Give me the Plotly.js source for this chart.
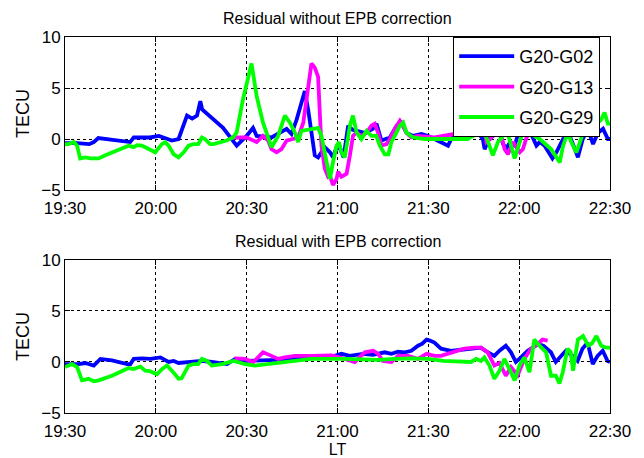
<!DOCTYPE html>
<html>
<head>
<meta charset="utf-8">
<script src="https://cdn.plot.ly/plotly-3.0.1.min.js"></script>
<style>html,body{margin:0;padding:0;background:#fff;}#chart{width:644px;height:458px;}</style>
</head>
<body>
<div id="chart"></div>
<script>
// Time axis: minutes after 19:30 LT
const tickMinutes = [0, 30, 60, 90, 120, 150, 180];
const tickLabels = ["19:30", "20:00", "20:30", "21:00", "21:30", "22:00", "22:30"];
const seriesNames = ["G20-G02", "G20-G13", "G20-G29"];

// ---- Top panel: Residual without EPB correction ----
const topG02Time = [0,4,8,9.5,11,16,21.5,22.7,26,28,31,33,35.3,37.5,40.3,42,43.6,44.7,45.3,52.2,55.5,56.7,60,62.1,63.3,68.2,73.2,74.8,76.5,78.7,79.2,80.3,81.4,82.5,83.6,85.8,87.5,88.5,89.7,91,92,93.5,95,96.8,99,101.7,102.9,104.5,106,107.3,109.5,111.1,112.8,115,117.7,120,122,124.3,126.5,127.6,129.3,129.8,131,133,134.7,136.5,138,138.6,140,141.4,143,144.7,145.8,147,148.5,150.2,151.8,153.5,155.7,156.8,158.4,161,162.3,164.5,166.7,168.8,169.4,171,172.7,174.4,176,177.7,179.3,180];
const topG02Res = [-0.4,-0.4,-0.5,-0.3,0.1,-0.05,-0.3,0.15,0.2,0.15,0.3,0.1,-0.15,0,2.3,2.0,2.3,3.7,2.9,1.1,-0.3,-0.65,0.3,1.1,0.3,0.15,1.0,0.5,1.9,4.2,4.7,2.9,0.3,-1.6,-1.8,-0.8,-1.3,-1.8,-0.8,-1.0,-1.8,1.3,0.9,0.8,0.6,1.0,1.5,-0.15,0,0.15,1.3,1.6,0.6,0.3,0.5,0.3,0,-0.3,-0.65,0,0.8,1.3,0.8,0.6,1.0,0.6,0,-1.0,0,0.3,1.0,-0.5,-0.9,-0.3,-0.65,1.0,1.1,0.8,-0.65,-0.3,-0.65,-1.9,-1.3,0,0.3,-1.3,-1.8,0,1.0,-0.5,0.6,1.0,0,0];

const topG13Time = [55,60,63.3,65.4,67.1,68.2,69.9,71.5,73.2,75.4,77,78.7,80.3,81.4,82.5,83.6,84.2,84.7,85.8,86.9,87.5,88.5,89.7,90.2,91.3,93,94.1,95.1,96.3,97.9,99.6,101.2,102.3,103.4,104.5,106.2,107.3,108.9,110.6,111.7,112.8,114.4,116.6,122,128.7,130.4,133,135,137,138.2,139.2,140.5,142.5,143.8,145.2,146.3,148,150.2,151.2,152.5,154.6,156.2];
const topG13Res = [0.15,0.15,-0.3,0.3,-0.15,-1.0,-1.3,-1.0,-0.15,0,0.15,1.6,5.2,7.4,7.0,6.1,2.3,-0.65,-2.9,-3.7,-3.6,-4.5,-3.9,-3.2,-3.7,-3.4,-1.6,0.3,0.65,0.3,0.6,1.3,1.5,0.6,-0.65,-0.5,0,1.0,1.8,1.3,0.6,0.15,0.3,0.15,0.5,1.3,1.0,1.1,1.1,1.3,-0.3,0,1.0,0.7,-1.0,-1.5,-0.3,-1.3,-1.0,0.2,1.0,1.0];

const topG29Time = [0,1.2,2.9,4,5,6.7,8.4,11.1,13.3,17.7,21,22.7,23.8,25.4,27.6,29.8,32,33.1,34.2,35.9,37.5,39.2,40.8,42.5,44,45.2,46.2,47.9,49,51.2,53.4,55.5,56.7,58.8,61.6,63.3,65.4,68.2,70.4,72.6,74.3,75.9,77,78.1,80.9,83.6,84.7,86.3,87.5,88.5,89.7,90.5,91.3,92.4,94.1,95.1,96.3,97.9,99.6,101.2,102.8,104,105.6,106.8,107.8,108.9,110.6,111.7,112.8,115,118.8,124.3,130,133,134.7,136.5,138.6,140,141.3,143,144.7,145.8,147,148.5,150.2,151.1,152.8,155,156.8,159,160.6,163.4,164.5,166.1,167.2,168.9,170.5,171.6,173.8,174.9,177.1,178.2,179.3,180];
const topG29Res = [-0.5,-0.5,-0.3,-0.65,-1.9,-1.8,-1.9,-1.9,-1.6,-1.1,-0.65,-0.8,-0.6,-0.65,-1.0,-1.3,-0.5,-0.3,-0.65,-1.5,-1.8,-1.3,-0.65,-0.5,-0.5,0.15,0,-0.5,-0.5,-0.3,-0.15,0.15,0.65,3.9,7.4,4.2,1.6,-0.8,0.3,2.3,1.6,0.65,-0.3,0.8,1.0,1.1,0.3,-1.9,-3.9,-2.3,-0.65,-0.3,-1.3,-1.8,1.3,2.3,0.65,0,0.8,0.3,0.3,-0.65,-1.5,-1.5,-0.3,0.3,1.3,1.6,0.6,0.15,0,0,0,0,0.3,0.4,0.6,-0.5,-1.6,-0.3,0.3,1.0,-0.3,-1.9,-0.3,0.6,1.0,0.3,0,-0.65,-1.0,-2.3,-0.65,0.65,-0.3,-1.3,0,1.0,1.6,1.3,1.9,2.6,1.5,1.5];

// ---- Bottom panel: Residual with EPB correction ----
const botG02Time = [0,4.5,6.7,8,9.5,11.7,15.5,20.5,21.6,22.7,25.4,28.2,31.5,34.2,35.9,37.5,40.8,45.2,48.5,53.5,56.2,60,70,80,88,91.3,94,98.4,101.7,105.6,107.8,110,112.2,114.4,116.6,118,119.4,120.5,122,124.2,127.5,130.8,134.1,137.4,139.6,141.8,143.5,145.6,147.3,148.9,150.6,152.8,154.5,156.1,158,160.5,162.1,163.8,165.4,167.6,169.3,170.9,172.6,174.3,175.9,177.6,179.2,180];
const botG02Res = [-0.2,-0.2,-0.1,-0.2,-0.35,0.3,0.15,-0.2,-0.2,0.3,0.35,0.3,0.45,0,0.1,-0.1,0,0.1,0,-0.2,0.3,0.1,0.2,0.4,0.5,0.8,0.6,0.8,0.7,0.95,0.8,1.0,0.95,1.1,1.6,1.8,2.2,2.1,1.9,1.3,1.1,1.2,1.3,1.4,0.95,0.6,1.1,1.6,0.95,0,0.45,1.1,1.4,1.75,1.6,0.95,0,0.6,1.1,0.6,0.1,1.3,1.9,-0.2,0.6,1.1,0.1,0];

const botG13Time = [56,59.4,62.2,65.4,68.2,70.4,72.6,75.9,81.4,88,92.4,95.7,99,101.8,103.4,105,107.8,110,113.3,116.6,119.4,122,124.2,128.6,131.9,135.2,137.4,139.6,141.8,143.5,145.6,147.3,149.5,151.7,153.9,155.5,157.7,159.4];
const botG13Res = [0.35,0.3,0,0.95,0.6,0.3,0.45,0.6,0.6,0.65,0.3,0,0.95,1.1,0.8,0.1,0,0.6,0.6,0.3,0.8,0.6,0.6,0.95,1.3,1.4,1.4,0.95,-0.35,-0.1,-1.35,-0.5,-1.3,0.3,1.3,1.6,2.2,2.1];

const botG29Time = [0,2.3,4,5.6,7.8,9.5,11.1,15.5,21,22.7,24.9,26.5,28,30.4,32,33.7,35.3,37.5,38.5,40.8,42.5,44,45.2,46.9,48.5,51.8,55.7,57.9,59.5,62.7,71.5,81.4,92.4,103.4,108.9,114.4,119.9,125,134.1,135.8,137.4,138.5,140.2,141.8,143.5,145.1,146.8,148.5,150.1,151.7,153.4,155,156.7,158.9,160.5,162.1,163.3,164.4,166,167,167.8,169.4,171.1,172.8,174,175.5,177.1,178.8,180];
const botG29Res = [-0.5,-0.2,-0.5,-1.8,-1.65,-1.9,-1.8,-1.35,-0.6,-0.7,-0.45,-0.85,-0.9,-1.2,-0.7,-0.35,-0.85,-1.65,-1.6,-0.35,-0.2,-0.2,0.3,0.1,-0.35,-0.2,0.1,-0.1,-0.2,-0.35,0,0.3,0.3,0.2,0.3,0.35,0.3,0.1,0,0.3,0.1,0.45,-0.35,-1.65,-0.85,0.3,-0.7,-1.8,-0.35,0.45,-1.0,2.2,1.6,0.95,-1.35,-1.35,-2.1,-1.0,1.3,1.0,-0.85,2.2,2.55,1.6,1.8,2.55,1.6,1.4,1.4];

const colors = ["#0000FF", "#FF00FF", "#00FF00"];
const lw = 3.8;

function tr(x, y, i, xa, ya, show) {
  return {x: x, y: y, type: "scatter", mode: "lines", name: seriesNames[i],
          legendgroup: "g" + i,
          line: {color: colors[i], width: lw, shape: "linear"},
          xaxis: xa, yaxis: ya, showlegend: show, hoverinfo: "skip"};
}

const data = [
  tr(topG02Time, topG02Res, 0, "x", "y", true),
  tr(topG13Time, topG13Res, 1, "x", "y", true),
  tr(topG29Time, topG29Res, 2, "x", "y", true),
  tr(botG02Time, botG02Res, 0, "x2", "y2", false),
  tr(botG13Time, botG13Res, 1, "x2", "y2", false),
  tr(botG29Time, botG29Res, 2, "x2", "y2", false)
];

const font = "Liberation Sans, Arial, Helvetica, sans-serif";
function xax(anchor) {
  return {domain: [0, 1], range: [0, 180], anchor: anchor, tickmode: "array",
          tickvals: tickMinutes, ticktext: tickLabels, ticks: "inside", ticklen: 5,
          tickcolor: "#000", showline: true, linecolor: "#000", linewidth: 1, mirror: "ticks",
          showgrid: true, gridcolor: "#000", gridwidth: 1, griddash: "dot", zeroline: false,
          ticklabelstandoff: 3, automargin: false,
          tickfont: {family: font, size: 17, color: "#000"}, fixedrange: true};
}
function yax(domain, anchor) {
  return {domain: domain, range: [-5, 10], anchor: anchor, tickmode: "array",
          tickvals: [-5, 0, 5, 10], ticks: "inside", ticklen: 5, tickcolor: "#000",
          showline: true, linecolor: "#000", linewidth: 1, mirror: "ticks",
          showgrid: true, gridcolor: "#000", gridwidth: 1, griddash: "dot", zeroline: false,
          automargin: false,
          tickfont: {family: font, size: 17, color: "#000"},
          title: {text: "TECU", font: {family: font, size: 18, color: "#000"}, standoff: 6},
          fixedrange: true};
}

const layout = {
  width: 644, height: 458,
  margin: {l: 65, r: 34, t: 37, b: 45},
  paper_bgcolor: "#fff", plot_bgcolor: "#fff",
  font: {family: font, color: "#000"},
  xaxis: xax("y"),
  yaxis: yax([0.593, 1], "x"),
  xaxis2: Object.assign(xax("y2"), {title: {text: "LT", font: {family: font, size: 16, color: "#000"}, standoff: 6}}),
  yaxis2: yax([0, 0.407], "x2"),
  showlegend: true,
  legend: {x: 0.982, y: 1, xanchor: "right", yanchor: "top", bgcolor: "#fff",
           bordercolor: "#000", borderwidth: 1, font: {family: font, size: 18, color: "#000"},
           tracegroupgap: 4, itemwidth: 55},
  annotations: [
    {text: "Residual without EPB correction", xref: "paper", yref: "paper", x: 0.5, y: 1,
     xanchor: "center", yanchor: "bottom", yshift: 8, showarrow: false,
     font: {family: font, size: 16, color: "#000"}},
    {text: "Residual with EPB correction", xref: "paper", yref: "paper", x: 0.5, y: 0.407,
     xanchor: "center", yanchor: "bottom", yshift: 8, showarrow: false,
     font: {family: font, size: 16, color: "#000"}}
  ]
};

Plotly.newPlot("chart", data, layout, {displayModeBar: false, staticPlot: true});
</script>
</body>
</html>
